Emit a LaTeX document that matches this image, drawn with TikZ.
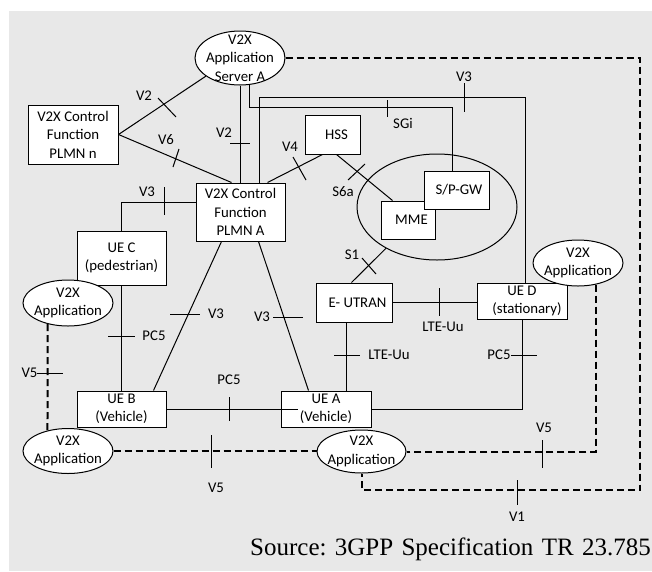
\documentclass[tikz,border=0pt]{standalone}
\usepackage{fontspec}
\setmainfont{Carlito}
\newfontfamily\srcfont{Liberation Serif}
\usetikzlibrary{shapes.geometric}
\definecolor{bgfill}{HTML}{E8E8E8}

\begin{document}
\begin{tikzpicture}[x=1pt,y=-1pt,
  lbl/.style={font=\fontsize{14.8}{18.5}\selectfont, inner sep=0pt, align=center},
  box/.style={lbl, draw, fill=white, line width=1pt, rectangle},
  app/.style={draw, fill=white, ellipse, line width=1pt, inner sep=0pt},
  conn/.style={line width=1pt},
  tick/.style={line width=1pt},
  ifc/.style={line width=2pt, dash pattern=on 7pt off 4pt},
]
\useasboundingbox (0,0) rectangle (652,571);
\fill[bgfill] (9,11) rectangle (652,571);

% functional entities
\node[box, minimum width=90pt, minimum height=59pt] (plmnN) at (73,134.5) {V2X Control\\Function\\PLMN n};
\node[box, minimum width=89pt, minimum height=58pt] (plmnA) at (240.5,212) {V2X Control\\Function\\PLMN A};
\node[box, minimum width=55pt, minimum height=39pt] (hss) at (332.5,134.5) {\hspace{8pt}HSS};
\node[draw, ellipse, line width=1pt, minimum width=160pt, minimum height=106pt, inner sep=0pt] (epc) at (437,207) {};
\node[box, minimum width=54pt, minimum height=38pt] (mme) at (408,220) {\hspace{7pt}MME};
\node[box, minimum width=65pt, minimum height=38pt] (spgw) at (456.5,190) {\hspace{5pt}S/P-GW};
\node[box, minimum width=76pt, minimum height=39pt] (eutran) at (354,302.5) {\hspace{7pt}E- UTRAN};

% user equipment
\node[box, minimum width=89pt, minimum height=54pt] (ueC) at (121.5,258) {UE C\\(pedestrian)};
\node[box, minimum width=90pt, minimum height=36pt] (ueD) at (522,301) {UE D\\\hspace{10pt}(stationary)};
\node[box, minimum width=89pt, minimum height=36pt] (ueB) at (121.5,409) {UE B\\(Vehicle)};
\node[box, minimum width=90pt, minimum height=36pt] (ueA) at (326,409) {UE A\\(Vehicle)};

% applications
\node[app, minimum width=90pt, minimum height=54pt] (asA) at (240,58) {};
\node[lbl] (asAtxt) at (asA.center) {V2X\\Application\\Server A};
\node[app, minimum width=90pt, minimum height=46pt] (appC) at (68,303) {};
\node[lbl] (appCtxt) at (appC.center) {V2X\\Application};
\node[app, minimum width=90pt, minimum height=45pt] (appB) at (68,451) {};
\node[lbl] (appBtxt) at (appB.center) {V2X\\Application};
\node[app, minimum width=89pt, minimum height=43pt] (appA) at (361.5,451.5) {};
\node[lbl] (appAtxt) at (appA.center) {V2X\\Application};
\node[app, minimum width=90pt, minimum height=46pt] (appD) at (578,263) {};
\node[lbl] (appDtxt) at (appD.center) {V2X\\Application};

% reference points (solid)
\draw[conn] (plmnN.east) -- (asA.208);
\draw[conn] (plmnN.east) -- ([xshift=36pt]plmnA.north west);
\draw[conn] (asA.south) -- (asA.south |- plmnA.north);
\coordinate (sgiNE) at (452,107);
\draw[conn] (asA.289) |- (sgiNE) -- (sgiNE |- spgw.north);
\coordinate (v3NE) at (525,97);
\draw[conn] ([xshift=64pt]plmnA.north west) |- (v3NE) -- (v3NE |- ueD.north);
\draw[conn] ([xshift=18pt]hss.south west) -- ([xshift=72pt]plmnA.north west);
\draw[conn] ([xshift=32pt]hss.south west) -- ([xshift=12pt]mme.north west);
\draw[conn] (epc.219) -- ([xshift=36pt]eutran.north west);
\draw[conn] (eutran.east) -- (eutran.east -| ueD.west);
\coordinate (euS) at ([xshift=31pt]eutran.south west);
\draw[conn] (euS) -- (euS |- ueA.north);
\draw[conn] ([yshift=-20pt]plmnA.north west) -| (ueC.north);
\draw[conn] (ueC.south) -- (ueB.north);
\draw[conn] ([xshift=26pt]plmnA.south west) -- ([xshift=77pt]ueB.north west);
\draw[conn] ([xshift=63pt]plmnA.south west) -- ([xshift=28pt]ueA.north west);
\draw[conn] (ueB.east) -- ([xshift=17pt]ueA.west);
\draw[conn] (ueD.south) |- (ueA.east);

% application-level reference points (dashed)
\coordinate (v1NE) at (640,57);
\coordinate (v1SE) at (640,490);
\draw[ifc] (asA.east) -- (asA.east -| v1NE) -- (v1SE) -| (appA.south);
\draw[ifc] (appD.309) |- (appA.east);
\draw[ifc] (appB.east) -- (appB.east -| appA.west);
\draw[ifc] (appC.226) -- (appB.135);

% crossing marks
\draw[tick] (158,98) -- (176,117);
\draw[tick] (173,167) -- (179,149);
\draw[tick] (230,143) -- (250,143);
\draw[tick] (387,100) -- (387,117);
\draw[tick] (464,83) -- (464,112);
\draw[tick] (293,157) -- (306,180);
\draw[tick] (348,180) -- (365,164);
\draw[tick] (164,187) -- (164,215);
\draw[tick] (362,258) -- (376,274);
\draw[tick] (170,314) -- (200,314);
\draw[tick] (273,317) -- (303,317);
\draw[tick] (108,336) -- (135,336);
\draw[tick] (37,373) -- (63,373);
\draw[tick] (439,288) -- (439,316);
\draw[tick] (334,355) -- (360,355);
\draw[tick] (511,355) -- (537,355);
\draw[tick] (229,397) -- (229,421);
\draw[tick] (211,435) -- (211,468);
\draw[tick] (542,440) -- (542,468);
\draw[tick] (517,480) -- (517,505);

% interface labels
\node[lbl] (lV2a) at (144,96) {V2};
\node[lbl] (lV6) at (166,140) {V6};
\node[lbl] (lV2b) at (224,133) {V2};
\node[lbl] (lSGi) at (403,123) {SGi};
\node[lbl] (lV3a) at (464,77) {V3};
\node[lbl] (lV4) at (290,147) {V4};
\node[lbl] (lS6a) at (343,192) {S6a};
\node[lbl] (lV3b) at (147,192) {V3};
\node[lbl] (lS1) at (352,255) {S1};
\node[lbl] (lV3c) at (216,314) {V3};
\node[lbl] (lV3d) at (262,317) {V3};
\node[lbl] (lPC5a) at (154,336) {PC5};
\node[lbl] (lV5a) at (29.5,373) {V5};
\node[lbl] (lLTEa) at (443,327) {LTE-Uu};
\node[lbl] (lLTEb) at (389,355) {LTE-Uu};
\node[lbl] (lPC5b) at (499,355) {PC5};
\node[lbl] (lPC5c) at (229,380) {PC5};
\node[lbl] (lV5b) at (216,488) {V5};
\node[lbl] (lV5c) at (544,428) {V5};
\node[lbl] (lV1) at (517,517) {V1};

% source line
\node[font=\srcfont\fontsize{25}{30}\selectfont, anchor=base west, inner sep=0pt] (src) at (250,555)
  {Source:\hspace{8.3pt}3GPP\hspace{8.3pt}Specification\hspace{8.3pt}TR\hspace{8.3pt}23.785};
\end{tikzpicture}
\end{document}
